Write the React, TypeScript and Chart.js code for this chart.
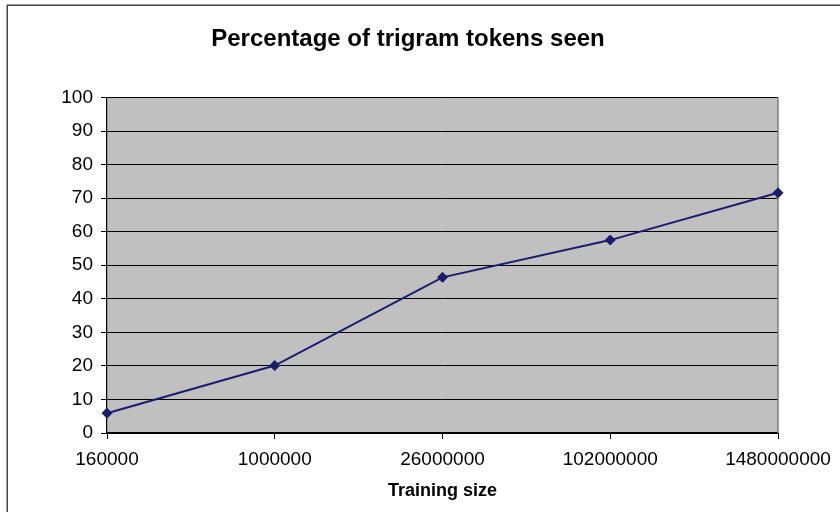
import React, { useEffect, useRef } from "react";
import { Chart, registerables } from "chart.js";

Chart.register(...registerables);

const chartTitle = "Percentage of trigram tokens seen";
const xAxisTitle = "Training size";
const categories = ["160000", "1000000", "26000000", "102000000", "1480000000"];
const seenPercent = [5.9, 20.1, 46.4, 57.5, 71.6];
const yMin = 0;
const yMax = 100;
const yStep = 10;

const FONT = "'Liberation Sans', Arial, sans-serif";

const decorPlugin = {
  id: "decor",
  beforeDraw(chart: any) {
    const { ctx, chartArea } = chart;
    ctx.save();
    ctx.fillStyle = "#ffffff";
    ctx.fillRect(0, 0, chart.width, chart.height);
    ctx.fillStyle = "#c0c0c0";
    ctx.fillRect(chartArea.left, chartArea.top, chartArea.right - chartArea.left, chartArea.bottom - chartArea.top);
    ctx.restore();
  },
  afterDraw(chart: any) {
    const { ctx, chartArea } = chart;
    ctx.save();
    ctx.strokeStyle = "#444444";
    ctx.lineWidth = 1.5;
    ctx.beginPath();
    ctx.moveTo(7.25, chart.height);
    ctx.lineTo(7.25, 5.25);
    ctx.lineTo(chart.width, 5.25);
    ctx.stroke();
    ctx.fillStyle = "#000000";
    ctx.textAlign = "center";
    ctx.textBaseline = "alphabetic";
    ctx.font = `bold 24px ${FONT}`;
    ctx.fillText(chartTitle, 408, 45.7);
    ctx.font = `bold 18px ${FONT}`;
    ctx.fillText(xAxisTitle, (chartArea.left + chartArea.right) / 2, 496);
    ctx.restore();
  },
  beforeDatasetsDraw(chart: any) {
    const { ctx, chartArea } = chart;
    ctx.save();
    ctx.strokeStyle = "#808080";
    ctx.lineWidth = 1.5;
    ctx.beginPath();
    ctx.moveTo(chartArea.right, chartArea.top);
    ctx.lineTo(chartArea.right, chartArea.bottom);
    ctx.stroke();
    ctx.restore();
  },
};

export default function App() {
  const ref = useRef<HTMLCanvasElement | null>(null);
  useEffect(() => {
    if (!ref.current) return;
    const chart = new Chart(ref.current, {
      type: "line",
      data: {
        labels: categories,
        datasets: [
          {
            data: seenPercent,
            borderColor: "#1c1c6e",
            backgroundColor: "#1c1c6e",
            borderWidth: 2,
            pointStyle: "rectRot",
            pointRadius: 5,
            pointBorderWidth: 1,
            tension: 0,
            clip: false as any,
          },
        ],
      },
      options: {
        animation: false,
        responsive: true,
        maintainAspectRatio: false,
        layout: { padding: { top: 97.5, left: 0, right: 62, bottom: 0 } },
        plugins: {
          legend: { display: false },
          title: { display: false },
          tooltip: { enabled: false },
        },
        scales: {
          x: {
            offset: false,
            grid: {
              drawOnChartArea: false,
              drawTicks: true,
              tickLength: 6,
              color: "#000000",
              lineWidth: 1,
            },
            border: { color: "#000000", width: 1.2 },
            ticks: {
              color: "#000000",
              font: { family: FONT, size: 19 },
              padding: 9,
              maxRotation: 0,
              autoSkip: false,
            },
            afterFit: (s: any) => {
              s.height = 79;
            },
          },
          y: {
            min: yMin,
            max: yMax,
            grid: {
              color: "#000000",
              lineWidth: 1,
              tickLength: 6,
            },
            border: { color: "#000000", width: 1.2 },
            ticks: {
              stepSize: yStep,
              color: "#000000",
              font: { family: FONT, size: 19 },
              padding: 8,
            },
            afterFit: (s: any) => {
              s.width = 107;
            },
          },
        },
      },
      plugins: [decorPlugin],
    });
    return () => chart.destroy();
  }, []);
  return (
    <div style={{ position: "fixed", left: 0, top: 0, width: 840, height: 512 }}>
      <canvas ref={ref} width={840} height={512} />
    </div>
  );
}
